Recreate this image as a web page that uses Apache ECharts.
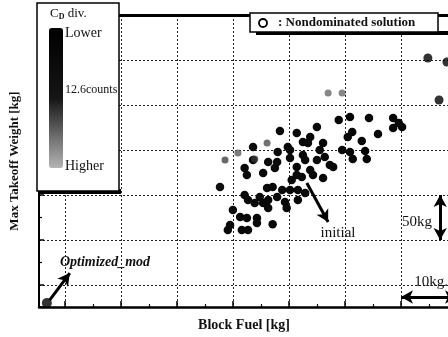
<!DOCTYPE html>
<html>
<head>
<meta charset="utf-8">
<script src="https://cdn.jsdelivr.net/npm/echarts@6/dist/echarts.min.js"></script>
<style>
  html, body { margin: 0; padding: 0; background: #fff; }
  #main { width: 448px; height: 337px; }
</style>
</head>
<body>
<div id="main"></div>
<script>
  // [block fuel, max takeoff weight, CD div. counts]  (kg relative to grid)
  var cluster = [
    [48.9,183.3,4],[50.9,186.7,3],[54.3,185.6,4],[58.6,185.6,3],[59.6,180,5],[60.2,175.6,4],[58.6,174.4,3],
    [38.4,171.1,5],[41.4,168.9,4],[45.0,175.6,6],[43.8,164.4,5],[42.5,158.9,4],[43.4,157.8,6],[39.8,153.3,5],
    [33.6,153.3,7],[46.1,157.8,4],[51.3,170,3],[50.5,164.4,5],[53.0,160,4],[55.9,167.8,3],
    [49.5,150,5],[50.9,147.8,4],[53.6,148.9,3],[51.4,140,4],[53.9,140,3],[42.5,144.4,6],
    [45.5,150,5],[46.4,142.2,6],[47.3,133.3,5],[45.0,138.9,7],[47.9,131.1,5],
    [38.0,147.8,6],[40.2,150,5],[40.2,141.1,6],[37.9,136.7,7],[37.5,130,6],[41.4,131.1,5],[42.9,138.9,6],
    [32.1,130,5],[27.7,108.9,9],[32.5,122.2,6],[35.4,124.4,5],[41.4,122.2,6],[40.5,116.7,5],[42.3,120,6],
    [44.3,122.2,5],[43.8,127.8,6],[46.1,118.9,5],
    [36.1,107.8,6],[37.1,108.9,5],[38.8,105.6,6],[40.2,105.6,5],[41.6,105.6,6],[42.9,102.2,5],
    [34.8,97.8,6],[36.3,94.4,5],[37.9,97.8,6],[35.4,91.1,5],[33.9,91.1,6],[32.7,94.4,7],[39.3,92.2,5],
    [39.6,85.6,6],[32.1,100,6],[41.6,94.4,5],
    [30.0,83.3,6],[31.3,75.6,5],[32.5,74.4,6],[34.3,74.4,5],[34.3,68.9,6],[37.1,67.5,5],[36.3,85.6,6],
    [29.5,66.7,7],[29.1,61.1,6],[31.6,61.1,5],[32.7,61.1,6],[33.6,138.9,6],[36.3,136.7,7]
  ];
  var grayPoints = [
    [47.0,213.3,19],[49.5,213.3,19],[36.1,157.8,17],[30.9,146.7,18],[28.6,138.9,16],[33.9,140,15]
  ];
  var nondominated = [[64.8,252.2],[68.2,247.8],[66.8,205.6]];
  var optimizedMod = [[-3.2,-20]];

  // annotation arrows, data coords [start, end]
  var arrowInitial = [[43.2,113.3],[47.0,70]];
  var arrowOptimized = [[-2.7,-16.7],[0.9,13.3]];
  var arrow50kg = [[67.0,100],[67.0,50]];
  var arrow10kg = [[60,-13.3],[70,-13.3]];

  var serif = 'Liberation Serif';

  var chart = echarts.init(document.getElementById('main'));

  var option = {
    animation: false,
    backgroundColor: '#fff',
    grid: { left: 39, top: 15, right: -9, bottom: 30, outerBoundsMode: 'none', containLabel: false },
    xAxis: [{
      type: 'value',
      min: -4.6,
      max: 70,
      splitNumber: 7,
      name: 'Block Fuel [kg]',
      nameLocation: 'middle',
      nameGap: 11,
      nameTextStyle: { fontFamily: serif, fontWeight: 'bold', fontSize: 14, color: '#111', padding: [0, 8, 0, 0] },
      axisLine: { onZero: false, lineStyle: { color: '#000', width: 2.5 } },
      axisTick: { inside: true, length: 6, lineStyle: { color: '#000', width: 1.5 } },
      minorTick: { show: true, splitNumber: 2, length: 3, lineStyle: { color: '#000', width: 1.2 } },
      axisLabel: { show: false },
      splitLine: { show: true, lineStyle: { color: '#222', type: [2, 2], width: 1 } }
    }, {
      type: 'value',
      position: 'top',
      min: -4.6,
      max: 70,
      axisLine: { show: true, onZero: false, lineStyle: { color: '#000', width: 3 } },
      axisTick: { show: false },
      axisLabel: { show: false },
      splitLine: { show: false }
    }],
    yAxis: {
      type: 'value',
      min: -24.4,
      max: 300,
      splitNumber: 6,
      name: 'Max Takeoff Weight [kg]',
      nameLocation: 'middle',
      nameGap: 18,
      nameTextStyle: { fontFamily: serif, fontWeight: 'bold', fontSize: 13, color: '#111' },
      axisLine: { onZero: false, lineStyle: { color: '#000', width: 2 } },
      axisTick: { inside: true, length: 5, lineStyle: { color: '#000', width: 1.5 } },
      minorTick: { show: true, splitNumber: 2, length: 3, lineStyle: { color: '#000', width: 1.2 } },
      axisLabel: { show: false },
      splitLine: { show: true, lineStyle: { color: '#222', type: [2, 2], width: 1 } }
    },
    visualMap: {
      type: 'continuous',
      seriesIndex: [0, 1],
      dimension: 2,
      min: 0,
      max: 25,
      inverse: true,
      calculable: false,
      left: 49,
      top: 28,
      padding: 0,
      itemWidth: 14,
      itemHeight: 140,
      text: null,
      z: 5,
      inRange: { color: ['#000000', '#151515', '#b4b4b4'] }
    },
    series: [{
      type: 'scatter',
      symbolSize: 8.5,
      data: cluster,
      itemStyle: { opacity: 1 },
      markLine: {
        silent: true,
        symbol: ['none', 'arrow'],
        symbolSize: [10, 12],
        label: { show: false },
        lineStyle: { color: '#000', width: 3, type: 'solid' },
        data: [
          [{ coord: arrowInitial[0] }, { coord: arrowInitial[1] }],
          [{ coord: arrowOptimized[0] }, { coord: arrowOptimized[1] }],
          [{ coord: arrow50kg[0], symbol: 'arrow' }, { coord: arrow50kg[1] }],
          [{ coord: arrow10kg[0], symbol: 'arrow' }, { coord: arrow10kg[1] }]
        ]
      }
    }, {
      type: 'scatter',
      symbolSize: 7,
      data: grayPoints
    }, {
      type: 'scatter',
      symbolSize: 9,
      itemStyle: { color: '#000' },
      data: nondominated
    }, {
      type: 'scatter',
      symbolSize: 10,
      clip: false,
      itemStyle: { color: '#000' },
      data: optimizedMod
    }],
    graphic: [
      // colour bar legend box
      { type: 'rect', z: 3, shape: { x: 40, y: 189, width: 81, height: 5 }, style: { fill: '#000' } },
      { type: 'rect', z: 3, shape: { x: 37, y: 3, width: 82, height: 188 }, style: { fill: '#fff', stroke: '#000', lineWidth: 1.5 } },
      { type: 'text', z: 6, x: 50, y: 14, style: { text: 'C{s|D} div.', rich: { s: { fontSize: 8, fontFamily: serif, fontWeight: 'bold', padding: [6, 0, 0, 0] } }, fontFamily: serif, fontSize: 13, fill: '#111', verticalAlign: 'middle' } },
      { type: 'text', z: 6, x: 65, y: 33, style: { text: 'Lower', fontFamily: serif, fontSize: 14, fill: '#111', verticalAlign: 'middle' } },
      { type: 'text', z: 6, x: 65, y: 90, style: { text: '12.6counts', fontFamily: serif, fontSize: 12, fill: '#111', verticalAlign: 'middle' } },
      { type: 'text', z: 6, x: 65, y: 166, style: { text: 'Higher', fontFamily: serif, fontSize: 14, fill: '#111', verticalAlign: 'middle' } },
      // nondominated legend
      { type: 'rect', z: 3, shape: { x: 256, y: 31, width: 192, height: 4 }, style: { fill: '#000' } },
      { type: 'rect', z: 3, shape: { x: 250, y: 13, width: 188, height: 19 }, style: { fill: '#fff', stroke: '#000', lineWidth: 1.5 } },
      { type: 'circle', z: 6, shape: { cx: 263, cy: 23, r: 4 }, style: { fill: 'none', stroke: '#000', lineWidth: 1.8 } },
      { type: 'text', z: 6, x: 278, y: 23, style: { text: ': Nondominated solution', fontFamily: serif, fontWeight: 'bold', fontSize: 13, fill: '#111', verticalAlign: 'middle' } },
      // annotations
      { type: 'text', z: 6, x: 338, y: 233, style: { text: 'initial', fontFamily: serif, fontSize: 15, fill: '#111', align: 'center', verticalAlign: 'middle' } },
      { type: 'text', z: 6, x: 105, y: 262, style: { text: 'Optimized_mod', fontFamily: serif, fontStyle: 'italic', fontWeight: 'bold', fontSize: 14, fill: '#111', align: 'center', verticalAlign: 'middle' } },
      { type: 'text', z: 6, x: 417, y: 222, style: { text: '50kg', fontFamily: serif, fontSize: 15, fill: '#111', align: 'center', verticalAlign: 'middle' } },
      { type: 'text', z: 6, x: 431, y: 282, style: { text: '10kg.', fontFamily: serif, fontSize: 15, fill: '#111', align: 'center', verticalAlign: 'middle' } }
    ]
  };

  chart.setOption(option);
</script>
</body>
</html>
